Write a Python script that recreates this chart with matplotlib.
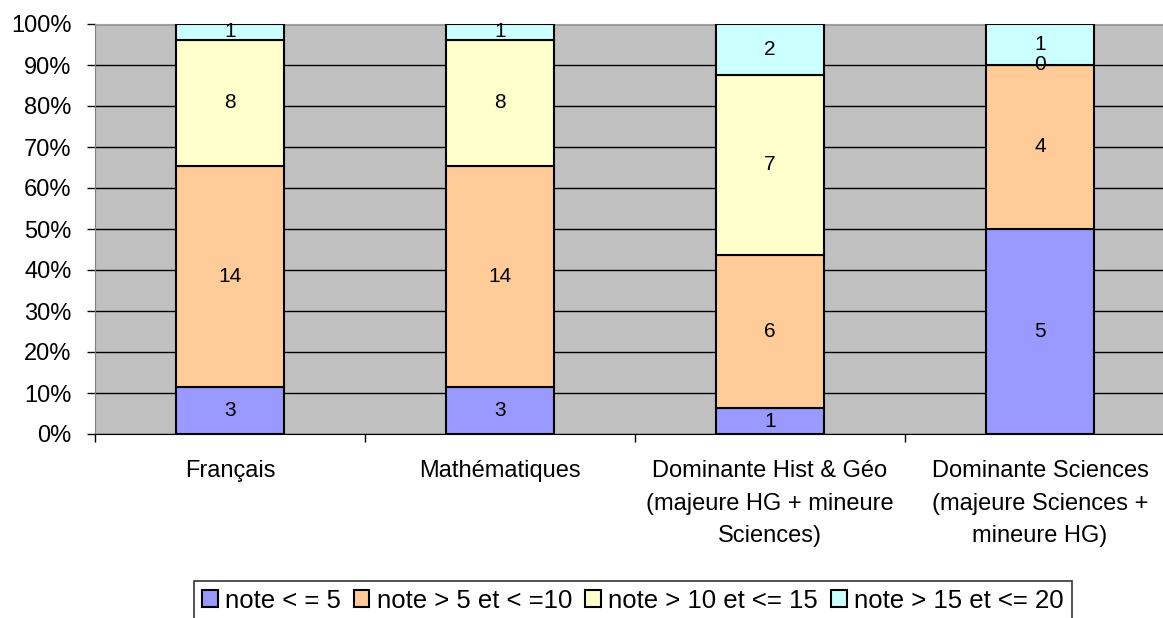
import matplotlib
matplotlib.use("Agg")
import matplotlib.pyplot as plt
from matplotlib.ticker import FixedLocator, PercentFormatter
import numpy as np

plt.rcParams['font.family'] = ['Liberation Sans', 'DejaVu Sans']

categories = ["Français", "Mathématiques",
              "Dominante Hist & Géo\n(majeure HG + mineure\nSciences)",
              "Dominante Sciences\n(majeure Sciences +\nmineure HG)"]
series_names = ["note < = 5", "note > 5 et < =10", "note > 10 et <= 15", "note > 15 et <= 20"]
s1 = [3, 3, 1, 5]
s2 = [14, 14, 6, 4]
s3 = [8, 8, 7, 0]
s4 = [1, 1, 2, 1]
colors = ["#9999FF", "#FFCC99", "#FFFFCC", "#CCFFFF"]

data = np.array([s1, s2, s3, s4], dtype=float)
totals = data.sum(axis=0)
pct = data / totals * 100

W, H = 1163, 618
fig = plt.figure(figsize=(W/100, H/100), dpi=100)
ax = fig.add_axes([95/W, 1-434/H, (1175-95)/W, (434-24)/H])
ax.set_facecolor("#C0C0C0")
x = np.arange(len(categories))
bottom = np.zeros(len(categories))
handles = []
for i in range(4):
    b = ax.bar(x, pct[i], 0.4, bottom=bottom, color=colors[i], edgecolor="black",
               linewidth=1.5, label=series_names[i], zorder=3)
    handles.append(b)
    for j in range(len(categories)):
        ax.text(x[j], bottom[j] + pct[i][j]/2, f"{int(data[i][j])}", ha="center", va="center",
                fontsize=15, zorder=4)
    bottom += pct[i]

ax.set_xlim(-0.5, len(categories)-0.5)
ax.set_ylim(0, 100)
ax.yaxis.set_major_locator(FixedLocator(np.arange(0, 101, 10)))
ax.yaxis.set_major_formatter(PercentFormatter(decimals=0))
ax.grid(axis="y", color="black", linewidth=1, zorder=1)
ax.set_axisbelow(True)
ax.set_xticks(x)
ax.set_xticklabels(categories, fontsize=17, linespacing=1.6)
ax.tick_params(axis="x", length=0, pad=19)
ax.xaxis.set_minor_locator(FixedLocator(np.arange(-0.5, len(categories), 1.0)))
ax.tick_params(axis="x", which="minor", length=6, color="black", width=1)
ax.tick_params(axis="y", labelsize=17, length=6, width=1, color="black", pad=11)
for side in ["top", "right"]:
    ax.spines[side].set_color("#A0A0A0")
ax.spines["left"].set_color("#808080")
ax.spines["bottom"].set_color("black")

leg = fig.legend(handles=handles, labels=series_names, loc="upper center",
                 bbox_to_anchor=(633/W, 1-581/H), ncol=4, fontsize=18.5,
                 frameon=True, fancybox=False, edgecolor="black", handlelength=0.6,
                 handleheight=0.6, handletextpad=0.3, columnspacing=0.5, borderpad=0.3,
                 borderaxespad=0)
leg.get_frame().set_linewidth(1.2)

fig.savefig("out.png", dpi=100)
